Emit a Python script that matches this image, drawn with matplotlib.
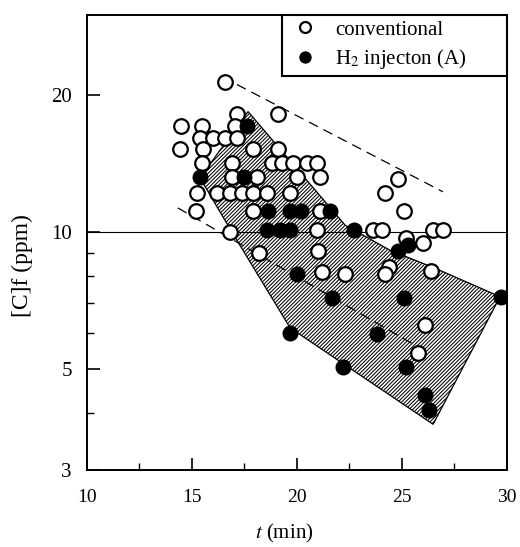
import matplotlib
matplotlib.use("Agg")
import matplotlib.pyplot as plt
from matplotlib.patches import Polygon
from matplotlib.ticker import FixedLocator, NullFormatter, FixedFormatter

plt.rcParams['font.family'] = ['Liberation Serif', 'DejaVu Serif']
plt.rcParams['mathtext.fontset'] = 'stix'
plt.rcParams['hatch.linewidth'] = 0.75

# conventional (open circles)
conv_t = [16.57, 17.14, 19.1, 14.48, 15.5, 17.05, 15.38, 16.0, 16.57, 17.14,
          14.43, 15.52, 17.9, 19.1, 15.5, 16.9, 18.8, 19.3, 19.8, 20.5, 20.95,
          16.9, 18.1, 20.0, 21.1, 15.24, 16.19, 16.8, 17.38, 17.9, 18.57, 19.67,
          24.8, 24.2, 25.1, 15.2, 17.9, 21.1, 20.95, 16.8, 23.6, 24.05, 26.5, 26.95,
          18.2, 21.0, 25.2, 26.0, 24.4, 24.2, 26.4, 21.2, 22.3, 26.1, 25.76]
conv_c = [21.4, 18.2, 18.2, 17.1, 17.1, 17.1, 16.1, 16.1, 16.1, 16.1,
          15.2, 15.2, 15.2, 15.2, 14.2, 14.2, 14.2, 14.2, 14.2, 14.2, 14.2,
          13.2, 13.2, 13.2, 13.2, 12.2, 12.2, 12.2, 12.2, 12.2, 12.2, 12.2,
          13.1, 12.2, 11.1, 11.1, 11.1, 11.1, 10.1, 10.0, 10.1, 10.1, 10.1, 10.1,
          9.0, 9.1, 9.7, 9.45, 8.4, 8.1, 8.2, 8.15, 8.1, 6.26, 5.43]

# H2 injection (A) (filled circles)
h2_t = [17.6, 15.38, 17.5, 18.6, 19.67, 20.2, 21.57, 18.57, 19.2, 19.67, 22.7,
        24.8, 25.3, 20.0, 21.67, 25.1, 29.7, 19.67, 23.8, 22.2, 25.2, 26.1, 26.3]
h2_c = [17.1, 13.2, 13.2, 11.1, 11.1, 11.1, 11.1, 10.1, 10.1, 10.1, 10.1,
        9.1, 9.35, 8.1, 7.15, 7.15, 7.2, 6.0, 5.98, 5.05, 5.05, 4.38, 4.06]

# hatched band outline
band_t = [15.38, 17.67, 22.29, 24.43, 26.57, 29.67, 26.48, 19.67, 16.9]
band_c = [13.16, 18.4, 10.36, 9.12, 8.33, 7.21, 3.78, 6.16, 10.0]

# dashed lines
upper_t = [17.14, 26.95]
upper_c = [21.1, 12.26]
mid_t = [14.33, 26.33]
mid_c = [11.3, 5.4]

ref_level = 10
xlim = (10, 30)
ylim = (3, 30)
x_major = [10, 15, 20, 25, 30]
x_minor = [12.5, 17.5, 22.5, 27.5]
y_major = [3, 5, 10, 20]
y_minor = [4, 6, 7, 8, 9]

fig = plt.figure(figsize=(5.2, 5.47), dpi=100)
ax = fig.add_axes([0.1673, 0.1408, 0.8077, 0.8318])
ax.set_yscale('log')
ax.set_xlim(*xlim)
ax.set_ylim(*ylim)

poly = Polygon(list(zip(band_t, band_c)), closed=True, facecolor='white',
               edgecolor='black', hatch='/' * 9, linewidth=0.9, zorder=1)
ax.add_patch(poly)

ax.axhline(ref_level, color='black', linewidth=0.8, zorder=1.5)
ax.plot(upper_t, upper_c, linestyle=(0, (8, 5)), color='black', linewidth=0.9, zorder=1.5)
ax.plot(mid_t, mid_c, linestyle=(0, (8, 5)), color='black', linewidth=0.9, zorder=1.5)

ax.plot(conv_t, conv_c, 'o', markersize=10.5, markerfacecolor='white',
        markeredgecolor='black', markeredgewidth=1.6, linestyle='none',
        zorder=3, label='conventional')
ax.plot(h2_t, h2_c, 'o', markersize=10.5, markerfacecolor='black',
        markeredgecolor='black', markeredgewidth=1.0, linestyle='none',
        zorder=4, label=r'H$_2$ injecton (A)')

ax.xaxis.set_major_locator(FixedLocator(x_major))
ax.xaxis.set_minor_locator(FixedLocator(x_minor))
ax.xaxis.set_major_formatter(FixedFormatter([str(v) for v in x_major]))
ax.xaxis.set_minor_formatter(NullFormatter())
ax.yaxis.set_major_locator(FixedLocator(y_major))
ax.yaxis.set_minor_locator(FixedLocator(y_minor))
ax.yaxis.set_major_formatter(FixedFormatter([str(v) for v in y_major]))
ax.yaxis.set_minor_formatter(NullFormatter())

ax.tick_params(which='major', direction='in', length=9, width=1.2)
ax.tick_params(which='minor', direction='in', length=5, width=1.0)
ax.tick_params(axis='x', which='major', pad=14, labelsize=14)
ax.tick_params(axis='y', which='major', pad=11, labelsize=15)
ax.tick_params(top=False, right=False, which='both')

for s in ax.spines.values():
    s.set_linewidth(1.4)

ax.set_xlabel(r'$t$ (min)', fontsize=15)
ax.set_ylabel('[C]f (ppm)', fontsize=17)
ax.xaxis.set_label_coords(0.47, -0.115)
ax.yaxis.set_label_coords(-0.128, 0.45)

leg = ax.legend(loc='upper left', bbox_to_anchor=(0.464, 0.0, 0.536, 1.0),
                mode='expand', borderaxespad=0, frameon=True, fancybox=False,
                fontsize=15, handletextpad=0.6, borderpad=0.25,
                labelspacing=0.35, handlelength=1.7, markerscale=0.75)
leg.get_frame().set_edgecolor('black')
leg.get_frame().set_linewidth(1.5)
leg.get_frame().set_alpha(1)

fig.savefig('out.png', dpi=100)
